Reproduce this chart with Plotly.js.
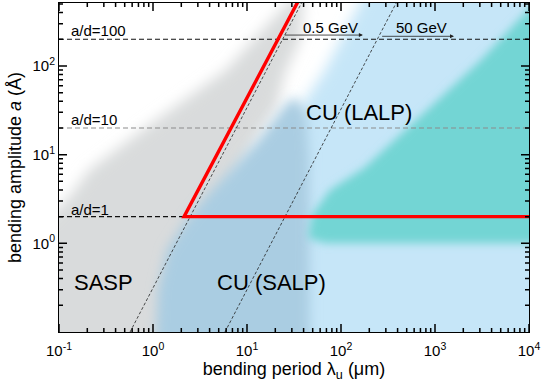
<!DOCTYPE html>
<html>
<head>
<meta charset="utf-8">
<script src="https://cdn.plot.ly/plotly-3.0.1.min.js"></script>
<style>
  html, body { margin: 0; padding: 0; background: #fff; }
  #chart { width: 545px; height: 386px; }
</style>
</head>
<body>
<div id="chart"></div>
<script>
// axes
const xRange = [-1, 4];
const yRange = [-1, 2.71];
const xTickVals = [0.1, 1, 10, 100, 1000, 10000];
const xTickText = ['10<sup>-1</sup>', '10<sup>0</sup>', '10<sup>1</sup>', '10<sup>2</sup>', '10<sup>3</sup>', '10<sup>4</sup>'];
const yTickVals = [1, 10, 100];
const yTickText = ['10<sup>0</sup>', '10<sup>1</sup>', '10<sup>2</sup>'];
const minorDigits = [2, 3, 4, 5, 6, 7, 8, 9];
const xDecades = [0.1, 1, 10, 100, 1000];
const yDecades = [0.1, 1, 10, 100];

// shaded regions, corners (lambda in um, a in Angstrom)
// they run past the frame so the soft edges only show inside
const grayLam = [0.01, 0.05, 0.131, 0.209, 0.822, 5.98, 17.1, 41, 36.6, 25.4, 20.8, 12.2, 5.83, 3.16];
const grayAmp = [0.01, 1.2, 3.41, 6.7, 19.95, 89.9, 304.6, 800, 196, 83.2, 34.4, 14.6, 3.08, 0.01];
const lightLam = [380, 100000, 100000, 28.7, 28.7, 38.5, 67.6, 110];
const lightAmp = [3000, 3000, 0.01, 0.01, 18.9, 36.2, 89.9, 241];
const steelLam = [0.98, 1.13, 1.41, 2.19, 4.04, 13.1, 25.4, 32, 42.4, 45.7, 46.8];
const steelAmp = [0.01, 0.297, 0.84, 1.74, 3.79, 14.6, 36.2, 45, 30.2, 8.69, 0.01];
const tealLam = [100000, 3083, 1076, 176, 76.4, 49.1, 44.6, 67.6, 100000];
const tealAmp = [6000, 116.6, 41.3, 7.06, 3.99, 2.08, 1.15, 1.0, 1.0];

// red boundary
const redLam = [37, 2.14, 10000];
const redAmp = [600, 2, 2];

// beam energy lines
const gev05Lam = [0.57, 39];
const gev05Amp = [0.1, 540];
const gev50Lam = [5.83, 401];
const gev50Amp = [0.1, 553];

// a/d levels
const adAmp = [200, 20, 2];
const adEnd = [10000, 10000, 2.14];
const adColor = ['#111', '#8c8c8c', '#111'];
const adLabels = ['a/d=100', 'a/d=10', 'a/d=1'];
const adLabelAmp = [250, 25, 2.4];

// arrows
const arrowTail = [24.2, 264];
const arrowHead = [171, 1592];
const arrowAmp = [223, 216];
const energyLabels = ['0.5 GeV', '50 GeV'];
const energyLabelLam = [76.4, 710];
const energyLabelAmp = [275, 275];

// region names
const regionLabels = ['CU (LALP)', 'SASP', 'CU (SALP)'];
const regionLam = [155, 0.297, 18];
const regionAmp = [30.2, 0.366, 0.357];

function minorTicks(decades, range) {
  const out = [];
  decades.forEach(d => minorDigits.forEach(m => {
    const l = Math.log10(d * m);
    if (l > range[0] && l < range[1]) out.push(d * m);
  }));
  return out;
}

function region(lam, amp, rgb) {
  return {
    x: lam, y: amp, type: 'scatter', mode: 'lines', fill: 'toself',
    fillcolor: 'rgb(' + rgb + ')', line: { width: 0 }, hoverinfo: 'skip'
  };
}

const traces = [
  region(grayLam, grayAmp, '217,219,220'),
  region(lightLam, lightAmp, '198,230,248'),
  region(steelLam, steelAmp, '170,205,226'),
  region(tealLam, tealAmp, '115,213,212')
];
const blurs = [7, 7, 6, 4];

adAmp.forEach((a, i) => {
  traces.push({
    x: [0.1, adEnd[i]], y: [a, a], type: 'scatter', mode: 'lines',
    line: { color: adColor[i], width: 1.1, dash: '5px,3px' }, hoverinfo: 'skip'
  });
});

[[gev05Lam, gev05Amp], [gev50Lam, gev50Amp]].forEach(([lx, ly]) => {
  traces.push({
    x: lx, y: ly, type: 'scatter', mode: 'lines',
    line: { color: '#222', width: 0.8, dash: '3px,2px' }, hoverinfo: 'skip'
  });
});

traces.push({
  x: redLam, y: redAmp, type: 'scatter', mode: 'lines',
  line: { color: '#ff0000', width: 3.4 }, hoverinfo: 'skip'
});

const annotations = [];

// inward tick marks on all four sides, as headless annotation arrows
function addTicks(vals, onX, len) {
  vals.forEach(v => {
    [0, 1].forEach(side => {
      const a = {
        text: '', showarrow: true, arrowhead: 0, arrowwidth: 1.5, arrowcolor: '#000',
        standoff: 0, startstandoff: 0, width: 1, height: 1, borderpad: 0, font: { size: 1 },
        axref: 'pixel', ayref: 'pixel'
      };
      if (onX) {
        Object.assign(a, { xref: 'x', yref: 'paper', x: Math.log10(v), y: side, ax: 0, ay: side ? len : -len });
      } else {
        Object.assign(a, { xref: 'paper', yref: 'y', x: side, y: Math.log10(v), ax: side ? -len : len, ay: 0 });
      }
      annotations.push(a);
    });
  });
}
addTicks(xTickVals, true, 9);
addTicks(minorTicks(xDecades, xRange), true, 5);
addTicks(yTickVals, false, 9);
addTicks(minorTicks(yDecades, yRange), false, 5);

adLabels.forEach((t, i) => {
  annotations.push({
    text: t, x: Math.log10(0.127), y: Math.log10(adLabelAmp[i]), xref: 'x', yref: 'y',
    xanchor: 'left', yanchor: 'middle', showarrow: false, font: { size: 15 }
  });
});
energyLabels.forEach((t, i) => {
  annotations.push({
    text: t, x: Math.log10(energyLabelLam[i]), y: Math.log10(energyLabelAmp[i]), xref: 'x', yref: 'y',
    xanchor: 'center', yanchor: 'middle', showarrow: false, font: { size: 15 }
  });
  annotations.push({
    text: '', x: Math.log10(arrowHead[i]), y: Math.log10(arrowAmp[i]), xref: 'x', yref: 'y',
    ax: Math.log10(arrowTail[i]), ay: Math.log10(arrowAmp[i]), axref: 'x', ayref: 'y',
    showarrow: true, arrowhead: 2, arrowsize: 1, arrowwidth: 0.8, arrowcolor: '#222'
  });
});
regionLabels.forEach((t, i) => {
  annotations.push({
    text: t, x: Math.log10(regionLam[i]), y: Math.log10(regionAmp[i]), xref: 'x', yref: 'y',
    xanchor: 'center', yanchor: 'middle', showarrow: false, font: { size: 22 }
  });
});

const axisBase = {
  type: 'log', tickmode: 'array', ticks: '',
  showline: true, linecolor: '#000', linewidth: 1, mirror: true, layer: 'above traces',
  showgrid: false, zeroline: false, tickfont: { size: 15 }
};

const layout = {
  width: 545, height: 386,
  margin: { l: 59, r: 16, t: 3, b: 54 },
  paper_bgcolor: '#fff', plot_bgcolor: '#fff',
  font: { family: 'Liberation Sans, Arial, sans-serif', color: '#000' },
  showlegend: false,
  xaxis: Object.assign({}, axisBase, {
    range: xRange, tickvals: xTickVals, ticktext: xTickText, ticklabelstandoff: 5,
    title: { text: 'bending period λ<sub>u</sub> (μm)', font: { size: 18 }, standoff: 2 }
  }),
  yaxis: Object.assign({}, axisBase, {
    range: yRange, tickvals: yTickVals, ticktext: yTickText, ticklabelstandoff: 0,
    title: { text: 'bending amplitude <i>a</i> (Å)', font: { size: 18 }, standoff: 6 }
  }),
  annotations: annotations
};

Plotly.newPlot('chart', traces, layout, { displayModeBar: false }).then(gd => {
  // soften the region edges like the shaded original
  const NS = 'http://www.w3.org/2000/svg';
  const svg = gd.querySelector('.main-svg');
  let defs = svg.querySelector('defs');
  if (!defs) { defs = document.createElementNS(NS, 'defs'); svg.insertBefore(defs, svg.firstChild); }
  const groups = gd.querySelectorAll('.scatterlayer .trace');
  blurs.forEach((s, i) => {
    const f = document.createElementNS(NS, 'filter');
    f.setAttribute('id', 'soft' + i);
    f.setAttribute('x', '-20%'); f.setAttribute('y', '-20%');
    f.setAttribute('width', '140%'); f.setAttribute('height', '140%');
    const b = document.createElementNS(NS, 'feGaussianBlur');
    b.setAttribute('stdDeviation', s);
    f.appendChild(b);
    defs.appendChild(f);
    if (groups[i]) groups[i].querySelectorAll('path.js-fill').forEach(p => p.setAttribute('filter', 'url(#soft' + i + ')'));
  });
});
</script>
</body>
</html>
